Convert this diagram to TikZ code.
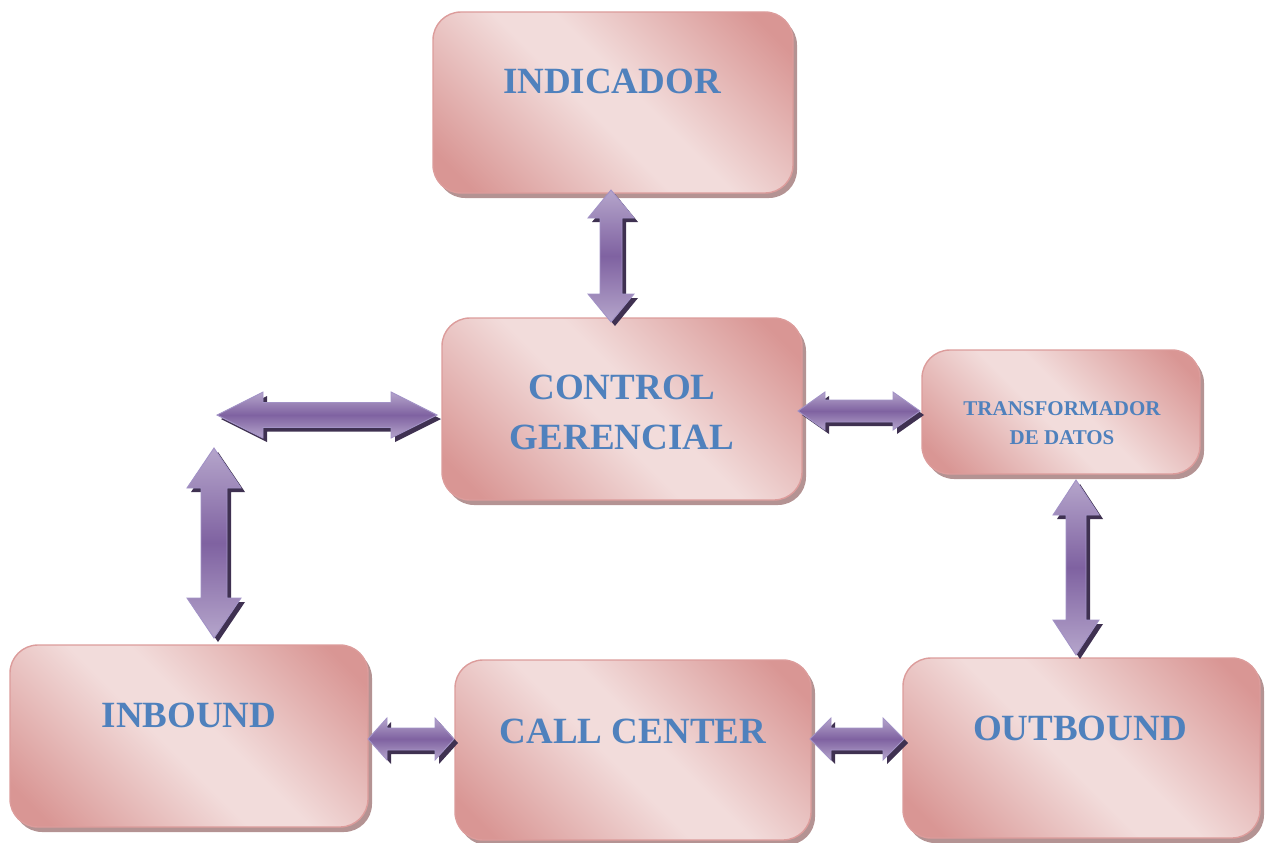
\documentclass[tikz,border=0pt]{standalone}
\usepackage{fontspec}
\setmainfont{Liberation Serif}
\usetikzlibrary{calc,shadows}
\definecolor{pd}{HTML}{D99694}
\definecolor{pl}{HTML}{F2DCDB}
\definecolor{pborder}{HTML}{DC9C9B}
\definecolor{pshadow}{HTML}{B49393}
\definecolor{tblue}{HTML}{4F81BD}
\definecolor{al}{HTML}{B5A5CB}
\definecolor{ad}{HTML}{7F62A1}
\definecolor{aline}{HTML}{A292C6}
\definecolor{ashadow}{HTML}{3F3151}
\pgfdeclarehorizontalshading{pinkband}{100bp}{color(0bp)=(pd); color(20bp)=(pd); color(46bp)=(pl); color(54bp)=(pl); color(80bp)=(pd); color(100bp)=(pd)}
\tikzset{
  box/.style={rounded corners=28pt, draw=pborder, line width=1.4pt,
    shading=pinkband, shading angle=45, inner sep=0pt,
    drop shadow={shadow xshift=4pt, shadow yshift=-5pt, fill=pshadow, opacity=1}},
  lbl/.style={text=tblue, font=\bfseries\fontsize{37}{50}\selectfont, inner sep=0pt, anchor=base},
  slbl/.style={text=tblue, font=\bfseries\fontsize{21}{29}\selectfont, inner sep=0pt, anchor=base},
  arrbody/.style={draw=aline, line width=0.9pt, line join=miter, top color=al, bottom color=al, middle color=ad},
  arrshadow/.style={fill=ashadow},
}
% horizontal double block arrow: #1 left tip, #2 right tip, #3 shaft half, #4 head half, #5 head length, #6 offset, #7 style
\newcommand\arrH[7]{%
  \path[#7] let \p1=($(#1)+#6$), \p2=($(#2)+#6$) in
  (\x1,\y1) -- (\x1+#5pt,\y1+#4pt) -- (\x1+#5pt,\y1+#3pt) -- (\x2-#5pt,\y1+#3pt) -- (\x2-#5pt,\y1+#4pt)
  -- (\x2,\y1) -- (\x2-#5pt,\y1-#4pt) -- (\x2-#5pt,\y1-#3pt) -- (\x1+#5pt,\y1-#3pt) -- (\x1+#5pt,\y1-#4pt) -- cycle;}
% vertical double block arrow: #1 top tip, #2 bottom tip
\newcommand\arrV[7]{%
  \path[#7] let \p1=($(#1)+#6$), \p2=($(#2)+#6$) in
  (\x1,\y1) -- (\x1+#4pt,\y1-#5pt) -- (\x1+#3pt,\y1-#5pt) -- (\x1+#3pt,\y2+#5pt) -- (\x1+#4pt,\y2+#5pt)
  -- (\x1,\y2) -- (\x1-#4pt,\y2+#5pt) -- (\x1-#3pt,\y2+#5pt) -- (\x1-#3pt,\y1-#5pt) -- (\x1-#4pt,\y1-#5pt) -- cycle;}
\begin{document}
\begin{tikzpicture}[x=1pt,y=-1pt]
\useasboundingbox (0,0) rectangle (1270,843);
% boxes
\node[box, minimum width=360pt, minimum height=181pt] (ind) at (613,102.5) {};
\node[box, minimum width=360pt, minimum height=182pt] (ctrl) at (622,409) {};
\node[box, minimum width=278pt, minimum height=124pt] (trans) at (1061,412) {};
\node[box, minimum width=358pt, minimum height=182pt] (inb) at (189,736) {};
\node[box, minimum width=356pt, minimum height=180pt] (call) at (633,750) {};
\node[box, minimum width=357pt, minimum height=180pt] (outb) at (1081.5,748) {};
% labels
\node[lbl] (ind-t) at (612,94) {INDICADOR};
\node[lbl] (ctrl-t1) at (622,399.5) {CONTROL};
\node[lbl] (ctrl-t2) at (622,449.5) {GERENCIAL};
\node[slbl] (trans-t1) at (1062,415) {TRANSFORMADOR};
\node[slbl] (trans-t2) at (1062,444) {DE DATOS};
\node[lbl] (inb-t) at (189,727.5) {INBOUND};
\node[lbl] (call-t) at (633,743.5) {CALL CENTER};
\node[lbl] (outb-t) at (1080,740.5) {OUTBOUND};
% arrow end points
\coordinate (a1t) at (611,190);
\coordinate (a1b) at (611,322);
\coordinate (a2l) at (217,415);
\coordinate (a2r) at (437,415);
\coordinate (a3t) at (214,448);
\coordinate (a3b) at (214,638);
\coordinate (a4l) at (798,411);
\coordinate (a4r) at (920,411);
\coordinate (a5t) at (1076,480);
\coordinate (a5b) at (1076,655);
\coordinate (a6l) at (368,739);
\coordinate (a6r) at (454,739);
\coordinate (a7l) at (810,739);
\coordinate (a7r) at (904,739);
% arrows: shadows then bodies
\arrV{a1t}{a1b}{11}{23}{28}{(4,4)}{arrshadow}
\arrV{a1t}{a1b}{11}{23}{28}{(0,0)}{arrbody}
\arrH{a2l}{a2r}{12.5}{23}{46}{(4,4)}{arrshadow}
\arrH{a2l}{a2r}{12.5}{23}{46}{(0,0)}{arrbody}
\arrV{a3t}{a3b}{13}{27}{40}{(4,4)}{arrshadow}
\arrV{a3t}{a3b}{13}{27}{40}{(0,0)}{arrbody}
\arrH{a4l}{a4r}{11}{19}{27}{(4,4)}{arrshadow}
\arrH{a4l}{a4r}{11}{19}{27}{(0,0)}{arrbody}
\arrV{a5t}{a5b}{10}{23}{35}{(4,4)}{arrshadow}
\arrV{a5t}{a5b}{10}{23}{35}{(0,0)}{arrbody}
\arrH{a6l}{a6r}{11}{21}{19}{(4,4)}{arrshadow}
\arrH{a6l}{a6r}{11}{21}{19}{(0,0)}{arrbody}
\arrH{a7l}{a7r}{11}{21}{21}{(4,4)}{arrshadow}
\arrH{a7l}{a7r}{11}{21}{21}{(0,0)}{arrbody}
\end{tikzpicture}
\end{document}
